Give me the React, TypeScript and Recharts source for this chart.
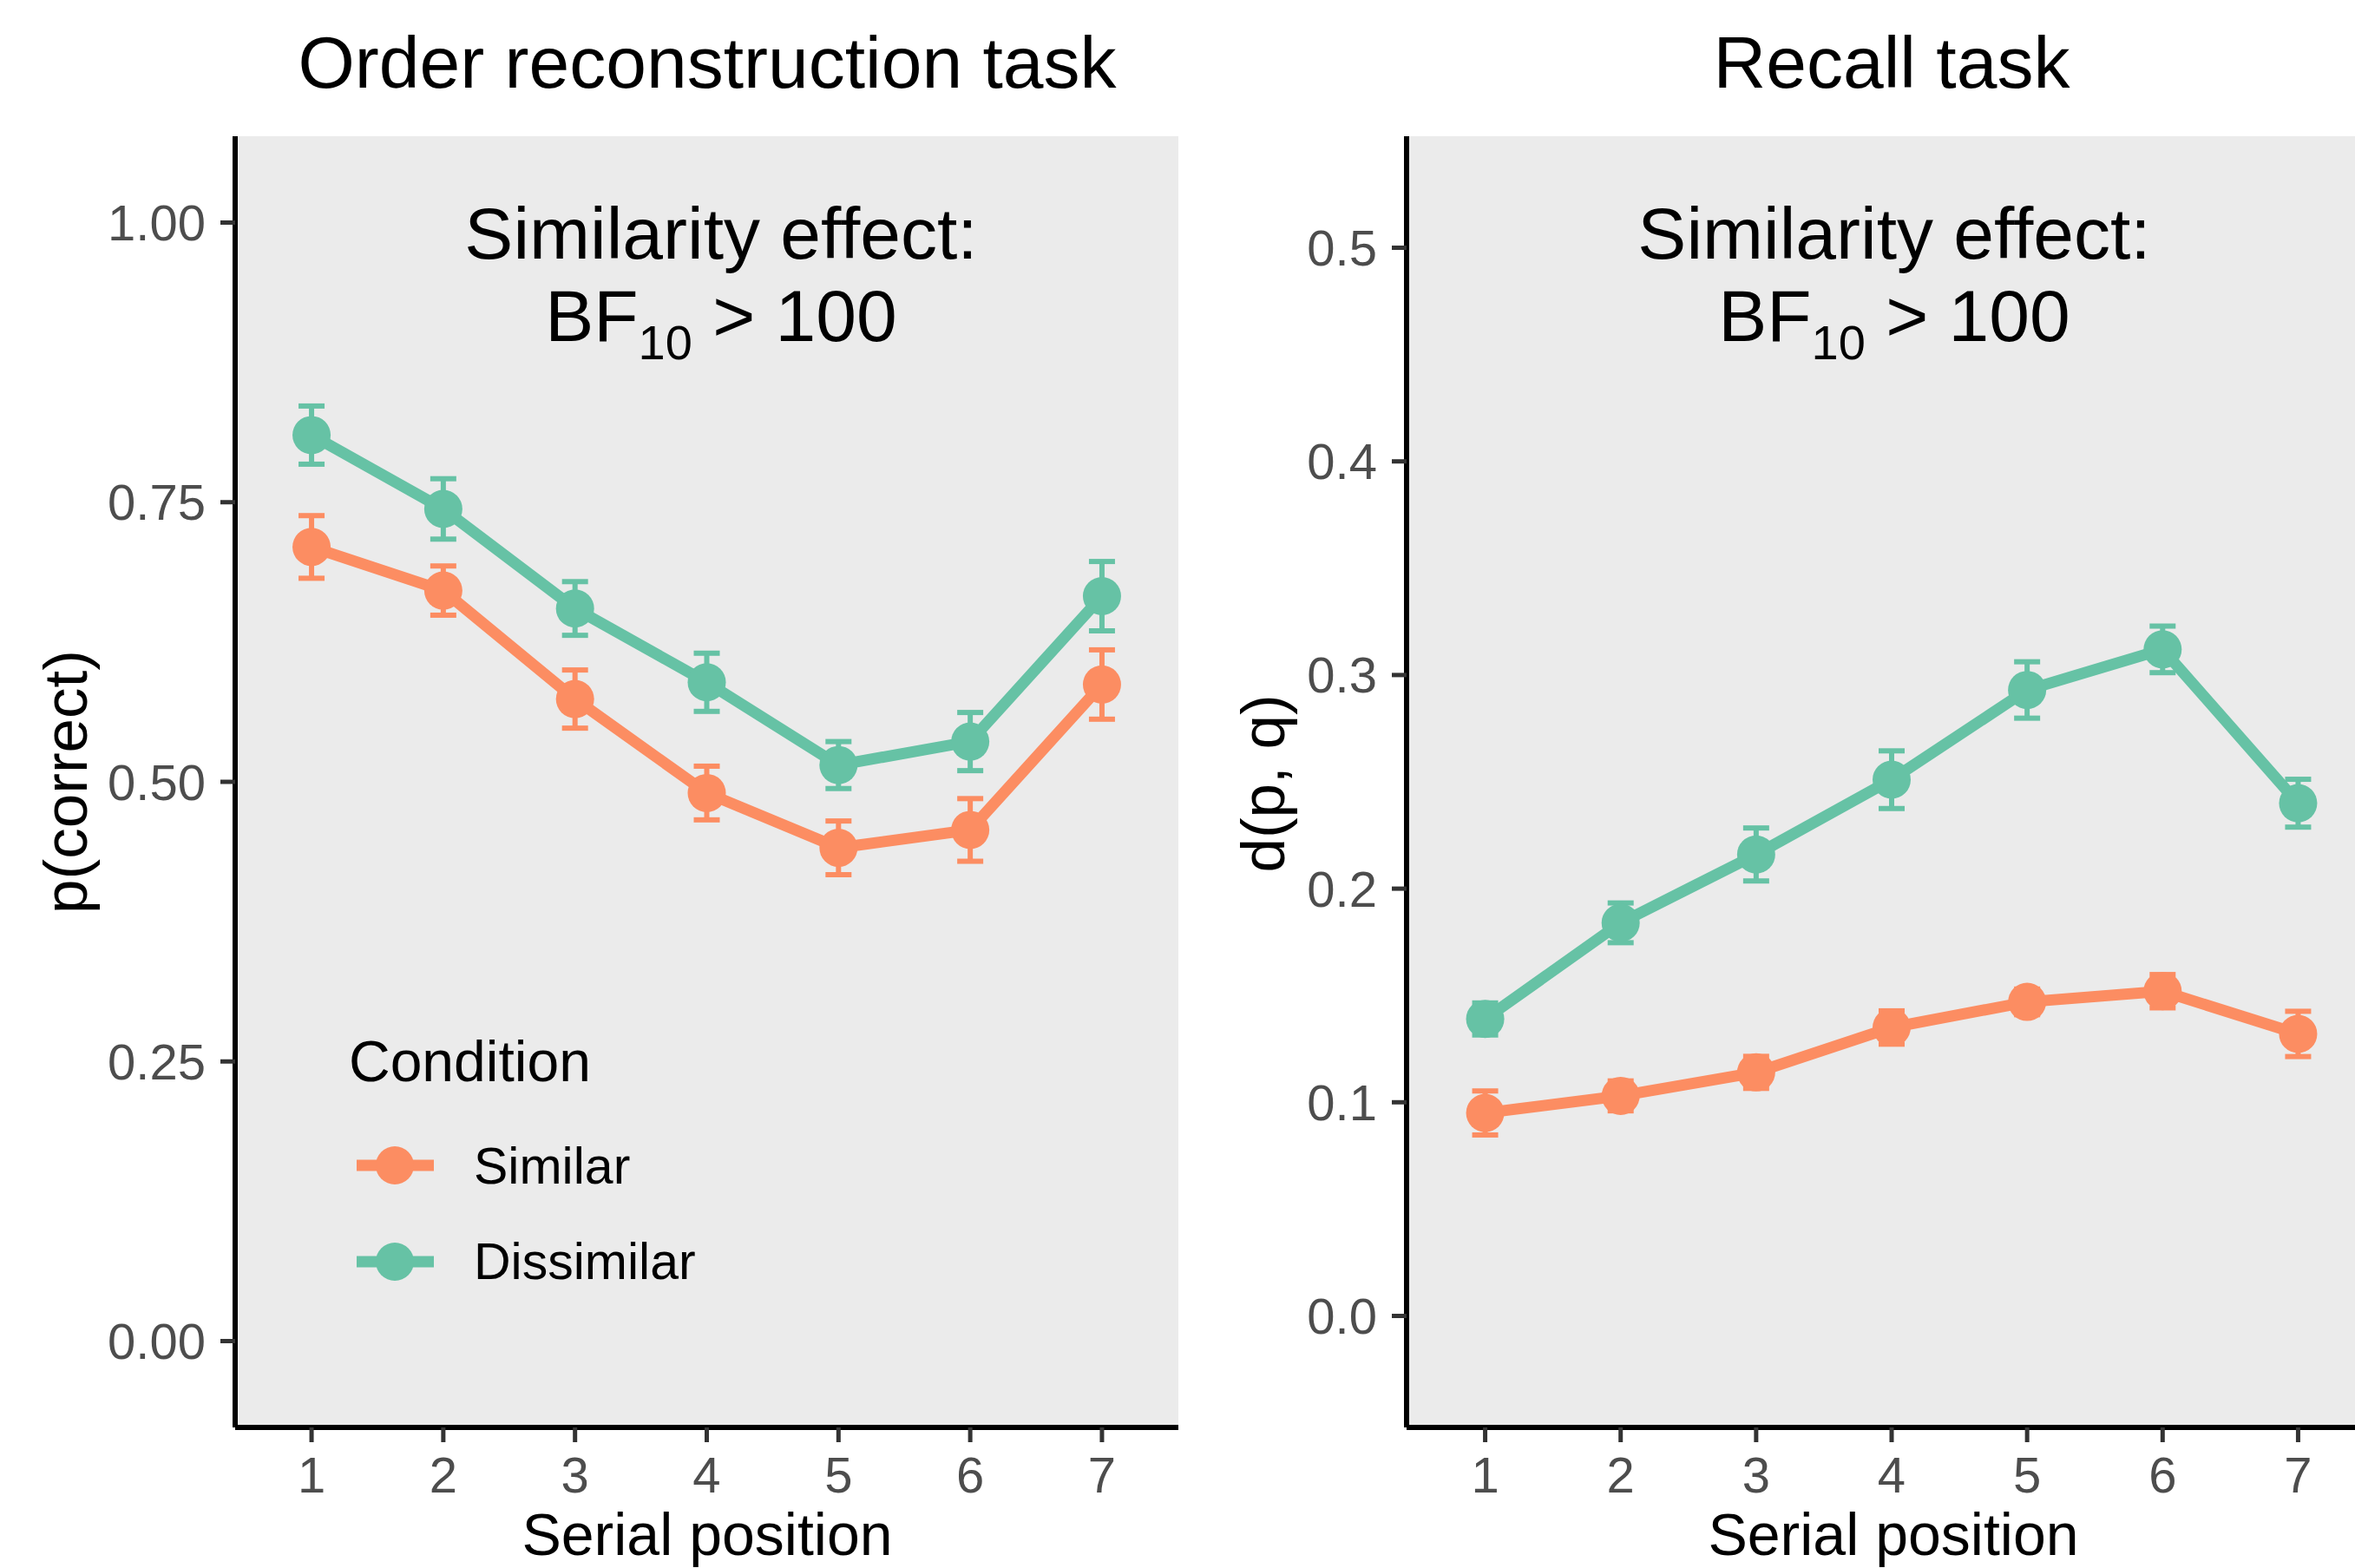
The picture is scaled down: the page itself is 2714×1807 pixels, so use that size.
import React from "react";
import { LineChart, Line, XAxis, YAxis, CartesianGrid, ErrorBar } from "recharts";

const positions = [1, 2, 3, 4, 5, 6, 7];

// Order reconstruction task, p(correct)
const orderSimilar = [0.71, 0.671, 0.574, 0.49, 0.441, 0.457, 0.587];
const orderSimilarErr = [0.028, 0.022, 0.026, 0.024, 0.024, 0.028, 0.031];
const orderDissimilar = [0.81, 0.744, 0.655, 0.589, 0.515, 0.536, 0.666];
const orderDissimilarErr = [0.026, 0.027, 0.024, 0.026, 0.021, 0.026, 0.031];
const orderTicks = [0, 0.25, 0.5, 0.75, 1];

// Recall task, d(p, q)
const recallSimilar = [0.095, 0.103, 0.114, 0.135, 0.147, 0.152, 0.132];
const recallSimilarErr = [0.0103, 0.007, 0.0075, 0.0078, 0.006, 0.0078, 0.0106];
const recallDissimilar = [0.139, 0.184, 0.216, 0.251, 0.293, 0.312, 0.24];
const recallDissimilarErr = [0.0075, 0.0093, 0.0124, 0.0135, 0.0132, 0.0109, 0.0112];
const recallTicks = [0, 0.1, 0.2, 0.3, 0.4, 0.5];

const SIMILAR = "#FC8D62";
const DISSIMILAR = "#66C2A5";
const FONT = "'Liberation Sans', Arial, Helvetica, sans-serif";

function buildRows(sim: number[], simErr: number[], dis: number[], disErr: number[]) {
  return positions.map((p, i) => ({
    pos: p,
    similar: sim[i],
    similarErr: simErr[i],
    dissimilar: dis[i],
    dissimilarErr: disErr[i],
  }));
}

const orderRows = buildRows(orderSimilar, orderSimilarErr, orderDissimilar, orderDissimilarErr);
const recallRows = buildRows(recallSimilar, recallSimilarErr, recallDissimilar, recallDissimilarErr);

type PanelProps = {
  rows: ReturnType<typeof buildRows>;
  ticks: number[];
  domain: [number, number];
  digits: number;
  left: number;
  marginLeft: number;
  marginRight: number;
};

function Panel({ rows, ticks, domain, digits, left, marginLeft, marginRight }: PanelProps) {
  const tickStyle = { fill: "#4D4D4D", fontSize: 58, fontFamily: FONT };
  const axisLine = { stroke: "#000000", strokeWidth: 6 };
  const tickLine = { stroke: "#333333", strokeWidth: 5 };
  return (
    <div style={{ position: "absolute", left, top: 0 }}>
      <LineChart
        width={1400}
        height={1807}
        data={rows}
        margin={{ top: 157, right: marginRight, bottom: 0, left: marginLeft }}
      >
        <CartesianGrid fill="#EBEBEB" stroke="none" horizontal={false} vertical={false} />
        <XAxis
          type="number"
          dataKey="pos"
          domain={[0.42, 7.58]}
          ticks={positions}
          allowDataOverflow
          height={162}
          tickSize={17}
          tickMargin={17}
          tick={tickStyle}
          tickLine={tickLine}
          axisLine={axisLine}
        />
        <YAxis
          type="number"
          domain={domain}
          ticks={ticks}
          allowDataOverflow
          width={200}
          tickSize={17}
          tickMargin={17}
          tick={tickStyle}
          tickLine={tickLine}
          axisLine={axisLine}
          tickFormatter={(v: number) => v.toFixed(digits)}
        />
        <Line
          type="linear"
          dataKey="similar"
          stroke={SIMILAR}
          strokeWidth={13}
          dot={{ r: 22, fill: SIMILAR, stroke: SIMILAR, strokeWidth: 0 }}
          activeDot={false}
          isAnimationActive={false}
        >
          <ErrorBar dataKey="similarErr" direction="y" width={15} strokeWidth={6} stroke={SIMILAR} isAnimationActive={false} />
        </Line>
        <Line
          type="linear"
          dataKey="dissimilar"
          stroke={DISSIMILAR}
          strokeWidth={13}
          dot={{ r: 22, fill: DISSIMILAR, stroke: DISSIMILAR, strokeWidth: 0 }}
          activeDot={false}
          isAnimationActive={false}
        >
          <ErrorBar dataKey="dissimilarErr" direction="y" width={15} strokeWidth={6} stroke={DISSIMILAR} isAnimationActive={false} />
        </Line>
      </LineChart>
    </div>
  );
}

function Annotation({ cx }: { cx: number }) {
  return (
    <>
      <text x={cx} y={298} textAnchor="middle" fontSize={84}>
        Similarity effect:
      </text>
      <text x={cx} y={393} textAnchor="middle" fontSize={84}>
        <tspan>BF</tspan>
        <tspan fontSize={56} dy={21}>10</tspan>
        <tspan dy={-21}>{" > 100"}</tspan>
      </text>
    </>
  );
}

export default function App() {
  return (
    <div
      style={{
        position: "absolute",
        left: 0,
        top: 0,
        width: 2714,
        height: 1807,
        overflow: "hidden",
        background: "#ffffff",
        fontFamily: FONT,
      }}
    >
      <Panel
        rows={orderRows}
        ticks={orderTicks}
        domain={[-0.0772, 1.0772]}
        digits={2}
        left={0}
        marginLeft={71}
        marginRight={42}
      />
      <Panel
        rows={recallRows}
        ticks={recallTicks}
        domain={[-0.0522, 0.5522]}
        digits={1}
        left={1400}
        marginLeft={21}
        marginRight={61}
      />
      <svg
        width={2714}
        height={1807}
        style={{ position: "absolute", left: 0, top: 0, pointerEvents: "none" }}
        fontFamily={FONT}
        fill="#000000"
      >
        <text x={815} y={101} textAnchor="middle" fontSize={84}>
          Order reconstruction task
        </text>
        <text x={2180} y={101} textAnchor="middle" fontSize={84}>
          Recall task
        </text>
        <Annotation cx={831} />
        <Annotation cx={2183} />

        <text transform="translate(100,901) rotate(-90)" textAnchor="middle" fontSize={71}>
          p(correct)
        </text>
        <text transform="translate(1480,903) rotate(-90)" textAnchor="middle" fontSize={71}>
          d(p, q)
        </text>
        <text x={815} y={1792} textAnchor="middle" fontSize={68}>
          Serial position
        </text>
        <text x={2182} y={1792} textAnchor="middle" fontSize={68}>
          Serial position
        </text>

        {/* legend */}
        <text x={402} y={1246} fontSize={66}>
          Condition
        </text>
        <line x1={411} x2={500} y1={1343} y2={1343} stroke={SIMILAR} strokeWidth={13} />
        <circle cx={455} cy={1343} r={22} fill={SIMILAR} />
        <text x={546} y={1364} fontSize={59}>
          Similar
        </text>
        <line x1={411} x2={500} y1={1454} y2={1454} stroke={DISSIMILAR} strokeWidth={13} />
        <circle cx={455} cy={1454} r={22} fill={DISSIMILAR} />
        <text x={546} y={1474} fontSize={59}>
          Dissimilar
        </text>
      </svg>
    </div>
  );
}
